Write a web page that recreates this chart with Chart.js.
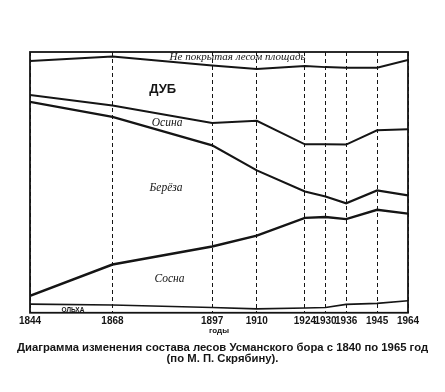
<!DOCTYPE html>
<html>
<head>
<meta charset="utf-8">
<script src="https://cdn.jsdelivr.net/npm/chart.js@4"></script>
<style>
  body { margin: 0; background: #fff; }
</style>
</head>
<body>
<canvas id="forest-chart" width="445" height="392"></canvas>
<script>
// Years as printed under the axis, and where they sit along the axis
const yearLabels = ['1844', '1868', '1897', '1910', '1924', '1930', '1936', '1945', '1964'];
const axisYear = [1844, 1868, 1897, 1910, 1924, 1930, 1936, 1945, 1954];

// Share of each layer, % (stacked from bottom)
const olkha = [3.3, 3.0, 2.0, 1.5, 1.8, 2.0, 3.2, 3.6, 4.6];
const sosna = [3.2, 15.5, 23.4, 28.1, 34.6, 34.7, 32.7, 35.9, 33.4];
const bereza = [74.4, 56.6, 38.8, 25.0, 10.1, 7.9, 6.1, 7.4, 7.0];
const osina = [2.6, 4.4, 8.6, 19.0, 18.1, 20.0, 22.5, 23.1, 25.4];
const dub = [13.0, 18.8, 22.0, 19.9, 30.0, 29.6, 29.5, 24.0, 26.5];
const nepokryt = [3.5, 1.7, 5.2, 6.5, 5.4, 5.8, 6.0, 6.0, 3.1];

const toPoints = arr => arr.map((v, i) => ({ x: axisYear[i], y: v }));

const ink = '#151515';

// text written inside the bands
const bandLabels = [
  { text: 'Не покрытая лесом площадь', x: 1904.4, y: 98.0, font: 'italic 11px "Liberation Serif"' },
  { text: 'ДУБ', x: 1882.6, y: 85.7, font: 'bold 13px "Liberation Sans"' },
  { text: 'Осина', x: 1883.9, y: 72.6, font: 'italic 11.5px "Liberation Serif"' },
  { text: 'Берёза', x: 1883.6, y: 47.8, font: 'italic 11.5px "Liberation Serif"' },
  { text: 'Сосна', x: 1884.6, y: 13.0, font: 'italic 11.5px "Liberation Serif"' },
  { text: 'ОЛЬХА', x: 1856.5, y: 1.0, font: 'bold 6.5px "Liberation Sans"' },
];

const framePlugin = {
  id: 'frame',
  afterDatasetsDraw(chart) {
    const { ctx, chartArea: a, scales } = chart;
    ctx.save();
    ctx.strokeStyle = ink;
    ctx.lineWidth = 1.8;
    ctx.strokeRect(a.left, a.top, a.right - a.left, a.bottom - a.top);
    ctx.fillStyle = ink;
    ctx.textAlign = 'center';
    ctx.textBaseline = 'middle';
    bandLabels.forEach(l => {
      ctx.font = l.font;
      ctx.fillText(l.text, scales.x.getPixelForValue(l.x), scales.y.getPixelForValue(l.y));
    });
    ctx.restore();
  }
};

const line = (label, values, width) => ({
  label: label,
  data: toPoints(values),
  borderColor: ink,
  borderWidth: width,
  pointRadius: 0,
  fill: false,
  tension: 0,
});

// empty side axes just to hold the plot inside its margins
const spacer = (pos, w) => ({
  position: pos,
  display: true,
  grid: { display: false },
  border: { display: false },
  ticks: { display: false },
  afterFit: s => { s.width = w; },
});

const ctx = document.getElementById('forest-chart').getContext('2d');
const forestChart = new Chart(ctx, {
  type: 'line',
  data: {
    datasets: [
      line('Ольха', olkha, 1.6),
      line('Сосна', sosna, 2.4),
      line('Берёза', bereza, 2.2),
      line('Осина', osina, 2.0),
      line('Дуб', dub, 2.0),
      line('Не покрытая лесом площадь', nepokryt, 0),
    ],
  },
  options: {
    responsive: false,
    animation: false,
    layout: { padding: { left: 0, right: 0, top: 52, bottom: 0 } },
    scales: {
      x: {
        type: 'linear',
        min: 1844,
        max: 1954,
        afterBuildTicks: scale => {
          scale.ticks = axisYear.map(v => ({ value: v }));
        },
        grid: { color: ink, lineWidth: 1, drawTicks: false },
        border: { display: false, dash: [4, 3] },
        ticks: {
          autoSkip: false,
          maxRotation: 0,
          padding: 2,
          color: ink,
          font: { family: 'Liberation Sans', size: 10, weight: 'bold' },
          callback: (value) => yearLabels[axisYear.indexOf(value)],
        },
        title: {
          display: true,
          text: 'годы',
          color: ink,
          padding: { top: -2, bottom: 0 },
          font: { family: 'Liberation Sans', size: 8, weight: 'bold', lineHeight: 1 },
        },
      },
      y: {
        stacked: true,
        min: 0,
        max: 100,
        display: false,
      },
      leftGap: spacer('left', 30),
      rightGap: spacer('right', 37),
    },
    plugins: {
      legend: { display: false },
      tooltip: { enabled: false },
      title: {
        display: true,
        position: 'bottom',
        text: [
          'Диаграмма изменения состава лесов Усманского бора с 1840 по 1965 год',
          '(по М. П. Скрябину).',
        ],
        color: ink,
        font: { family: 'Liberation Sans', size: 11.3, weight: 'bold', lineHeight: 0.94 },
        padding: { top: 8, bottom: 28 },
      },
    },
  },
  plugins: [framePlugin],
});
</script>
</body>
</html>
